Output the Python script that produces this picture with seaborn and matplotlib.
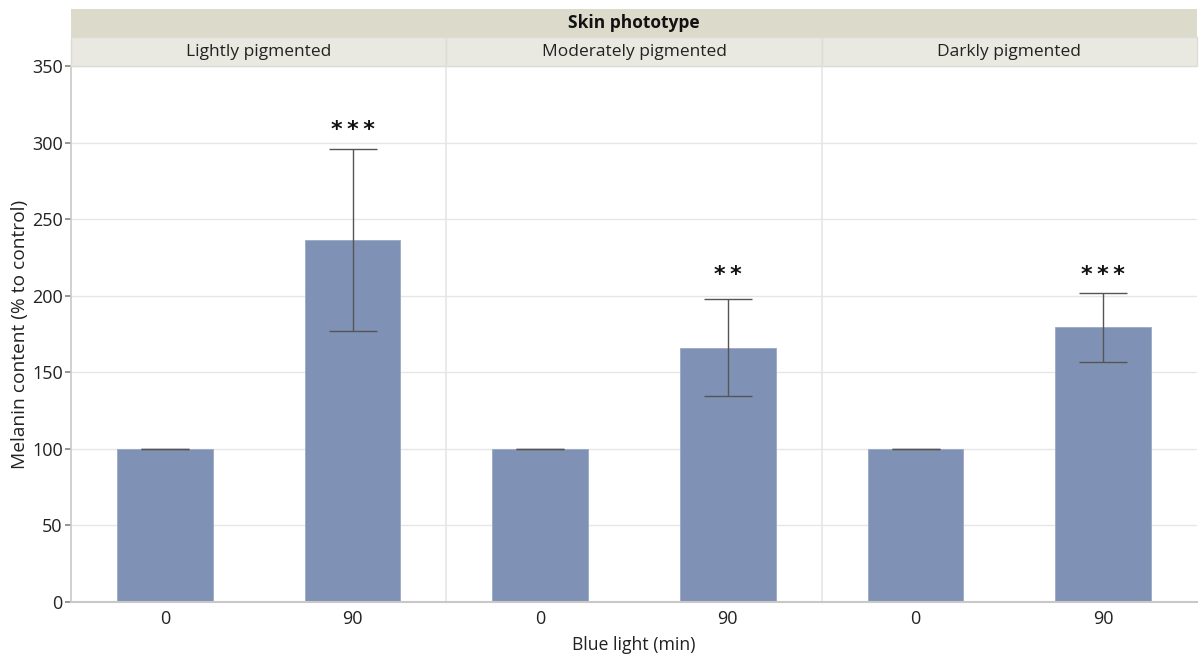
import matplotlib
matplotlib.use("Agg")
import matplotlib.pyplot as plt
import seaborn as sns
import pandas as pd
import numpy as np
from matplotlib.patches import Rectangle

# ---- data ----
phototypes = ["Lightly pigmented", "Moderately pigmented", "Darkly pigmented"]
times = ["0", "90"]
melanin_0 = [100, 100, 100]
melanin_90 = [236.4, 166.0, 179.4]
err_low_90 = [177.0, 134.5, 156.7]
err_high_90 = [295.9, 197.9, 201.8]
stars = ["***", "**", "***"]
star_y = [302, 207, 207]
yticks = [0, 50, 100, 150, 200, 250, 300, 350]

rows = []
for i, p in enumerate(phototypes):
    rows.append({"phototype": p, "time": "0", "melanin": melanin_0[i], "lo": melanin_0[i], "hi": melanin_0[i]})
    rows.append({"phototype": p, "time": "90", "melanin": melanin_90[i], "lo": err_low_90[i], "hi": err_high_90[i]})
df = pd.DataFrame(rows)

sns.set_theme(style="white")
plt.rcParams["font.family"] = ["Open Sans", "DejaVu Sans"]

W, H = 1199, 658
fig = plt.figure(figsize=(W / 100, H / 100), dpi=100)
left, right = 71 / W, 1197 / W
top, bottom = 1 - 66 / H, 1 - 602 / H
pw = (right - left) / 3

bar_color = "#7f91b4"
grid_color = "#e6e6e6"
axis_color = "#c8c8c8"
text_color = "#222222"

axes = []
for i, p in enumerate(phototypes):
    ax = fig.add_axes([left + i * pw, bottom, pw, top - bottom])
    sub = df[df.phototype == p]
    sns.barplot(data=sub, x="time", y="melanin", order=times, color=bar_color,
                width=0.51, errorbar=None, ax=ax, saturation=1,
                edgecolor="#9aa8c4", linewidth=0.6, zorder=2)
    xs = np.arange(len(times))
    vals = sub.set_index("time").loc[times]
    ax.errorbar(xs, vals["melanin"], yerr=[vals["melanin"] - vals["lo"], vals["hi"] - vals["melanin"]],
                fmt="none", ecolor="#555555", elinewidth=1.0, capsize=17, capthick=1.0, zorder=3)
    ax.text(1, star_y[i], "\u2009".join(stars[i]), ha="center", va="bottom", fontsize=16,
            fontweight="bold", color="#111111", family="DejaVu Sans")
    ax.set_xlim(-0.5, 1.5)
    ax.set_ylim(0, 350)
    ax.set_yticks(yticks)
    ax.yaxis.grid(True, color=grid_color, linewidth=1.0, zorder=0)
    ax.set_axisbelow(True)
    ax.set_xlabel("")
    ax.set_ylabel("")
    for s in ["top", "right"]:
        ax.spines[s].set_visible(False)
    ax.spines["bottom"].set_color(axis_color)
    ax.spines["bottom"].set_linewidth(1.5)
    if i == 0:
        ax.spines["left"].set_color(axis_color)
        ax.spines["left"].set_linewidth(1.2)
        ax.tick_params(axis="y", length=4, color="#888888", labelsize=13, labelcolor=text_color, pad=2, left=True)
    else:
        ax.spines["left"].set_color(grid_color)
        ax.spines["left"].set_linewidth(1.2)
        ax.tick_params(axis="y", left=False, labelleft=False)
    ax.tick_params(axis="x", length=0, labelsize=13, labelcolor=text_color, pad=6)
    axes.append(ax)

# strip headers
top_px0, top_px1 = 9, 37
fig.add_artist(Rectangle((left, 1 - top_px1 / H), right - left, (top_px1 - top_px0) / H,
                         transform=fig.transFigure, facecolor="#dcdacb", edgecolor="none"))
fig.text((left + right) / 2, 1 - (top_px0 + top_px1) / 2 / H, "Skin phototype", ha="center", va="center",
         fontsize=12.5, fontweight="bold", color="#111111")
for i, p in enumerate(phototypes):
    x0 = left + i * pw
    fig.add_artist(Rectangle((x0, 1 - 66 / H), pw, (66 - 37) / H, transform=fig.transFigure,
                             facecolor="#e9e9e1", edgecolor="#dcdcd4", linewidth=1.0))
    fig.text(x0 + pw / 2, 1 - 51.5 / H, p, ha="center", va="center", fontsize=12.5, color=text_color)

fig.text((left + right) / 2, 1 - 645 / H, "Blue light (min)", ha="center", va="center", fontsize=12.7, color=text_color)
fig.text(20 / W, (top + bottom) / 2, "Melanin content (% to control)", ha="center", va="center",
         rotation=90, fontsize=13.8, color=text_color)

fig.savefig("out.png", dpi=100)
